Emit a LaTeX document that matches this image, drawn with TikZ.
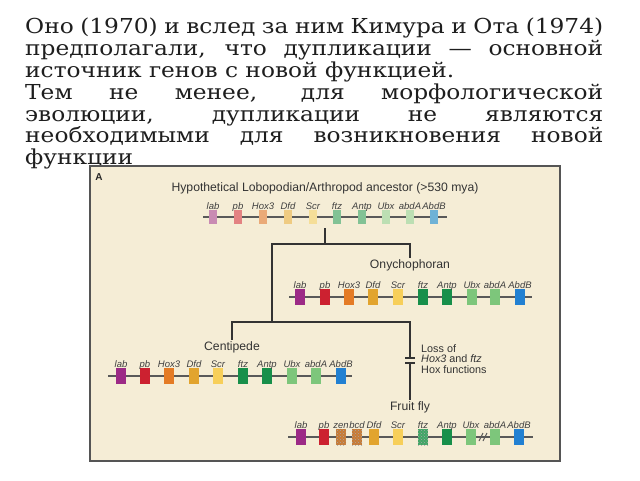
\documentclass[tikz,border=0pt]{standalone}
\usepackage{fontspec}
\setmainfont{DejaVu Serif}
\newfontfamily\introfont[FakeStretch=1.13]{DejaVu Serif}
\newfontfamily\figfont{Liberation Sans}
\usetikzlibrary{patterns}

\definecolor{paper}{HTML}{F5EDD6}
\definecolor{framegray}{HTML}{555555}
\definecolor{textdark}{HTML}{1E1E1E}
% pale colours, ancestor
\definecolor{labP}{HTML}{C98BB3}
\definecolor{pbP}{HTML}{E38282}
\definecolor{hoxP}{HTML}{EAAA78}
\definecolor{dfdP}{HTML}{EFCB82}
\definecolor{scrP}{HTML}{F5DE98}
\definecolor{ftzP}{HTML}{82C295}
\definecolor{ubxP}{HTML}{BCDFB3}
\definecolor{abdbP}{HTML}{6FB2D6}
% full colours
\definecolor{labS}{HTML}{9C2A86}
\definecolor{pbS}{HTML}{CC2130}
\definecolor{hoxS}{HTML}{E47B25}
\definecolor{dfdS}{HTML}{E2A42E}
\definecolor{scrS}{HTML}{F7CF5A}
\definecolor{ftzS}{HTML}{178F4A}
\definecolor{ubxS}{HTML}{7DC67B}
\definecolor{abdbS}{HTML}{2180D2}
\definecolor{zenS}{HTML}{C97A33}
\definecolor{ftzF}{HTML}{3FA765}

\newcommand{\fullline}[1]{\makebox[578pt][s]{#1}}

\tikzset{
  tree/.style = {draw=black!80, line width=1.2pt},
  chrom/.style = {draw=black!65, line width=1.8pt},
  gene/.style = {rectangle, minimum width=10pt, minimum height=16pt,
    inner sep=0pt, label distance=3.5pt},
  oldgene/.style = {gene, minimum width=8pt, minimum height=14pt},
  speckled/.style = {postaction={pattern=crosshatch dots, pattern color=black!35}},
  genelabel/.style = {font=\figfont\fontsize{9.5}{9.5}\selectfont\itshape,
    text=black!75, inner sep=0pt, text height=6.8pt, text depth=0pt},
  taxon/.style = {font=\figfont\fontsize{12.2}{12.2}\selectfont, text=black!80,
    inner sep=1pt}
}

\begin{document}
\begin{tikzpicture}[x=1pt, y=-1pt]
  \useasboundingbox (0,0) rectangle (640,480);

  \node[anchor=north west, align=left, inner sep=0pt,
    font=\introfont\fontsize{20.6}{21.8}\selectfont, text=textdark] (intro) at (25,18)
    {\fullline{Оно (1970) и вслед за ним Кимура и Ота (1974)}\\
     \fullline{предполагали, что дупликации — основной}\\
     источник генов с новой функцией.\\
     \fullline{Тем не менее, для морфологической}\\
     \fullline{эволюции, дупликации не являются}\\
     \fullline{необходимыми для возникновения новой}\\
     функции};

  % panel
  \draw[fill=paper, draw=framegray, line width=1.5pt] (90,166) rectangle (560,461);
  \node[font=\figfont\bfseries\fontsize{10}{10}\selectfont, text=black!85] (panel) at (99,177) {A};

  % ancestor
  \node[taxon] (anc) at (325,188) {Hypothetical Lobopodian/Arthropod ancestor (>530 mya)};
  \coordinate (anc-l) at (203,217);
  \coordinate (anc-r) at (447,217);
  \draw[chrom] (anc-l) -- (anc-r);
  \foreach \g/\c/\px in {lab/labP/213, pb/pbP/238, Hox3/hoxP/263, Dfd/dfdP/288,
      Scr/scrP/313, ftz/ftzP/337, Antp/ftzP/362, Ubx/ubxP/386, abdA/ubxP/410,
      AbdB/abdbP/434}
    \node[oldgene, fill=\c, label={[genelabel]above:\g}] (anc-\g) at (\px,217) {};

  % Onychophoran
  \node[taxon] (ony) at (410,265) {Onychophoran};
  \coordinate (ony-l) at (289,297);
  \coordinate (ony-r) at (532,297);
  \draw[chrom] (ony-l) -- (ony-r);
  \foreach \g/\c/\px in {lab/labS/300, pb/pbS/325, Hox3/hoxS/349, Dfd/dfdS/373,
      Scr/scrS/398, ftz/ftzS/423, Antp/ftzS/447, Ubx/ubxS/472, abdA/ubxS/495,
      AbdB/abdbS/520}
    \node[gene, fill=\c, label={[genelabel]above:\g}] (ony-\g) at (\px,297) {};

  % Centipede
  \node[taxon] (cen) at (232,347) {Centipede};
  \coordinate (cen-l) at (108,376);
  \coordinate (cen-r) at (352,376);
  \draw[chrom] (cen-l) -- (cen-r);
  \foreach \g/\c/\px in {lab/labS/121, pb/pbS/145, Hox3/hoxS/169, Dfd/dfdS/194,
      Scr/scrS/218, ftz/ftzS/243, Antp/ftzS/267, Ubx/ubxS/292, abdA/ubxS/316,
      AbdB/abdbS/341}
    \node[gene, fill=\c, label={[genelabel]above:\g}] (cen-\g) at (\px,376) {};

  % Fruit fly
  \node[taxon] (fly) at (410,407) {Fruit fly};
  \coordinate (fly-l) at (288,437);
  \coordinate (fly-r) at (533,437);
  \draw[chrom] (fly-l) -- (fly-r);
  \foreach \g/\c/\px in {lab/labS/301, pb/pbS/324, Dfd/dfdS/374, Scr/scrS/398,
      Antp/ftzS/447, Ubx/ubxS/471, abdA/ubxS/495, AbdB/abdbS/519}
    \node[gene, fill=\c, label={[genelabel]above:\g}] (fly-\g) at (\px,437) {};
  \foreach \g/\c/\px in {zen/zenS/341, bcd/zenS/357, ftz/ftzF/423}
    \node[gene, fill=\c, speckled, label={[genelabel]above:\g}] (fly-\g) at (\px,437) {};
  \coordinate (brk) at (483,437);
  \draw[chrom, line width=1pt] ([shift={(-4,4)}]brk) -- ++(4,-8);
  \draw[chrom, line width=1pt] ([shift={(0,4)}]brk) -- ++(4,-8);

  % tree
  \coordinate (anc-base) at (325,228);
  \coordinate (j1) at (325,244);
  \coordinate (j2) at (272,322);
  \draw[tree] (anc-base) -- (j1);
  \draw[tree] (j1) -| (ony.north);
  \draw[tree] (j1) -| (j2);
  \draw[tree] (j2) -| (cen.north);
  \draw[tree] (j2) -| (fly.north);
  \coordinate (cut) at (410,360);
  \fill[paper] ([shift={(-5,-2.5)}]cut) rectangle ([shift={(5,2.5)}]cut);
  \draw[tree, line width=2pt] ([shift={(-5,-2.5)}]cut) -- ++(10,0);
  \draw[tree, line width=2pt] ([shift={(-5,2.5)}]cut) -- ++(10,0);
  \node[anchor=west, align=left, inner sep=0pt, text=black!80,
    font=\figfont\fontsize{10.8}{10.5}\selectfont] (loss) at (421,359)
    {Loss of\\\textit{Hox3} and \textit{ftz}\\Hox functions};
\end{tikzpicture}
\end{document}
